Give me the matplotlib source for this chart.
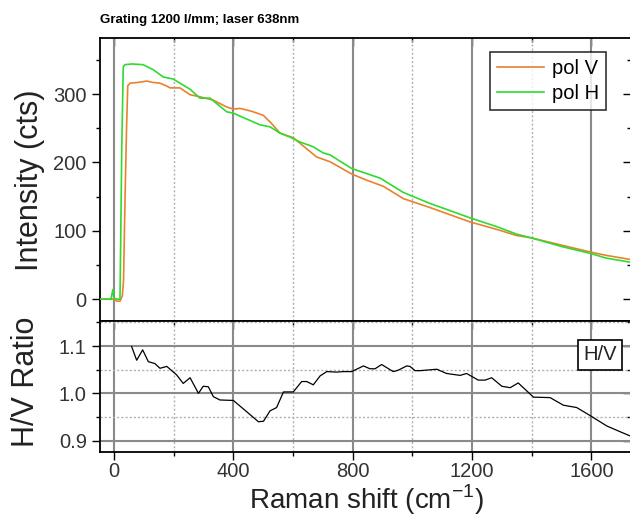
import numpy as np
import matplotlib.pyplot as plt
from matplotlib.ticker import MultipleLocator

plt.rcParams['font.family'] = ['Liberation Sans', 'DejaVu Sans']

# spectra (Raman shift in cm-1, intensity in cts)
shift_v = [-47, 0, 10, 20, 28, 32, 37, 42, 46, 54, 80, 110, 130, 154, 175, 188, 221, 255, 288,
           333, 378, 400, 422, 460, 500, 528, 556, 601, 640, 679, 724, 797, 847, 903, 970,
           1059, 1193, 1283, 1350, 1395, 1500, 1596, 1650, 1731]
pol_v = [0, 0, -3, -3, 5, 28, 150, 250, 312, 316, 317, 319, 317, 316, 312, 309, 309, 299, 296,
         291, 281, 278, 279, 275, 269, 257, 243, 236, 222, 208, 201, 183, 174, 165, 147,
         134, 113, 102, 93, 90, 79, 69, 64, 58]

shift_h = [-47, -10, -4, 0, 10, 20, 22, 26, 31, 37, 60, 97, 130, 165, 198, 255, 288, 322, 378,
           400, 489, 523, 556, 590, 623, 667, 701, 724, 797, 892, 970, 1059, 1193, 1283, 1350,
           1395, 1500, 1596, 1650, 1731]
pol_h = [0, 0, 14, 1, 0, 0, 72, 223, 340, 343, 344, 343, 336, 325, 322, 307, 294, 294, 274,
         272, 255, 252, 243, 237, 230, 223, 214, 211, 191, 177, 156, 140, 119, 106, 95,
         90, 77, 67, 60, 54]

# H/V ratio
shift_r = [59, 76, 96, 115, 137, 154, 177, 210, 232, 255, 283, 299, 316, 333, 355, 400, 445,
           484, 501, 523, 545, 568, 601, 629, 646, 668, 691, 713, 746, 769, 797, 836, 858,
           875, 897, 936, 953, 981, 992, 1009, 1026, 1082, 1115, 1160, 1182, 1221, 1244,
           1266, 1300, 1328, 1355, 1406, 1462, 1506, 1551, 1596, 1652, 1696, 1730]
ratio = [1.099, 1.070, 1.092, 1.067, 1.063, 1.053, 1.057, 1.039, 1.021, 1.033, 1.000, 1.015,
         1.014, 0.993, 0.986, 0.985, 0.961, 0.940, 0.941, 0.963, 0.970, 1.003, 1.003, 1.025,
         1.025, 1.018, 1.037, 1.046, 1.045, 1.046, 1.046, 1.058, 1.052, 1.052, 1.061, 1.046,
         1.049, 1.058, 1.057, 1.048, 1.048, 1.051, 1.042, 1.038, 1.042, 1.028, 1.028, 1.033,
         1.015, 1.012, 1.022, 0.992, 0.991, 0.975, 0.970, 0.953, 0.931, 0.919, 0.910]

W, H = 630, 518
fig = plt.figure(figsize=(6.3, 5.18), dpi=100)
ax1 = fig.add_axes([100 / W, (H - 321) / H, 531 / W, (321 - 38) / H])
ax2 = fig.add_axes([100 / W, (H - 452) / H, 531 / W, (452 - 321) / H])

xlim = (-47, 1733)

ax1.plot(shift_v, pol_v, color='#E8822E', lw=1.2, label='pol V', zorder=3)
ax1.plot(shift_h, pol_h, color='#2EDB2E', lw=1.2, label='pol H', zorder=3)
ax1.set_xlim(*xlim)
ax1.set_ylim(-32, 382)
ax1.yaxis.set_major_locator(MultipleLocator(100))
ax1.yaxis.set_minor_locator(MultipleLocator(50))

ax2.plot(shift_r, ratio, color='black', lw=0.9, zorder=3)
ax2.set_xlim(*xlim)
ax2.set_ylim(0.876, 1.153)
ax2.yaxis.set_major_locator(MultipleLocator(0.1))
ax2.yaxis.set_minor_locator(MultipleLocator(0.05))
ax2.yaxis.set_major_formatter(plt.FormatStrFormatter('%.1f'))

for ax in (ax1, ax2):
    ax.xaxis.set_major_locator(MultipleLocator(400))
    ax.xaxis.set_minor_locator(MultipleLocator(200))
    ax.grid(True, which='major', axis='x', color='#8a8a8a', lw=1.5)
    ax.grid(True, which='minor', axis='x', color='#b0b0b0', lw=1.0, ls=(0, (1.5, 1.5)))
    for s in ax.spines.values():
        s.set_linewidth(1.3)
    ax.tick_params(which='both', direction='out', width=1.0, labelsize=14.5,
                   labelcolor='#333333', top=False, right=False)
    ax.tick_params(which='major', length=6)
    ax.tick_params(which='minor', length=3)
    ax.set_axisbelow(True)

    # inward ticks on the opposite sides
    sec_y = ax.secondary_yaxis('right')
    sec_y.yaxis.set_major_locator(ax.yaxis.get_major_locator())
    sec_y.yaxis.set_minor_locator(ax.yaxis.get_minor_locator())
    sec_y.tick_params(which='both', direction='in', labelright=False, width=1.0)
    sec_y.tick_params(which='major', length=6)
    sec_y.tick_params(which='minor', length=3)
    sec_y.spines['right'].set_visible(False)

    sec_x = ax.secondary_xaxis('top')
    sec_x.xaxis.set_major_locator(MultipleLocator(400))
    sec_x.xaxis.set_minor_locator(MultipleLocator(200))
    sec_x.tick_params(which='both', direction='in', labeltop=False, width=1.0)
    sec_x.tick_params(which='major', length=6)
    sec_x.tick_params(which='minor', length=3)
    sec_x.spines['top'].set_visible(False)

ax1.tick_params(axis='x', which='both', bottom=False, labelbottom=False)
ax2.tick_params(axis='x', which='major', pad=1.5)
ax2.grid(True, which='major', axis='y', color='#8a8a8a', lw=1.5)
ax2.grid(True, which='minor', axis='y', color='#b0b0b0', lw=1.0, ls=(0, (1.5, 1.5)))

leg = ax1.legend(loc='upper right', bbox_to_anchor=(606 / W, 1 - 52 / H),
                 bbox_transform=fig.transFigure, fontsize=14.5, frameon=True,
                 fancybox=False, edgecolor='black', handlelength=2.3,
                 borderpad=0.35, labelspacing=0.3, handletextpad=0.4, borderaxespad=0)
leg.get_frame().set_linewidth(1.2)

ax2.text(600 / W, 1 - 355 / H, 'H/V', transform=fig.transFigure, fontsize=14.5,
         ha='center', va='center', color='#222222',
         bbox=dict(boxstyle='square,pad=0.25', fc='white', ec='black', lw=1.2))

fig.text(100 / W, 1 - 20 / H, 'Grating 1200 l/mm; laser 638nm', fontsize=9.5,
         fontweight='bold', ha='left', va='center')
fig.text(30 / W, 1 - 180 / H, 'Intensity (cts)', fontsize=22, rotation=90,
         ha='center', va='center', color='#222222')
fig.text(26 / W, 1 - 382 / H, 'H/V Ratio', fontsize=22, rotation=90,
         ha='center', va='center', color='#222222')
fig.text(366 / W, 1 - 509 / H, 'Raman shift (cm$^{\\mathregular{-1}}$)', fontsize=20,
         ha='center', va='baseline', color='#222222')

fig.savefig('out.png', dpi=100)
